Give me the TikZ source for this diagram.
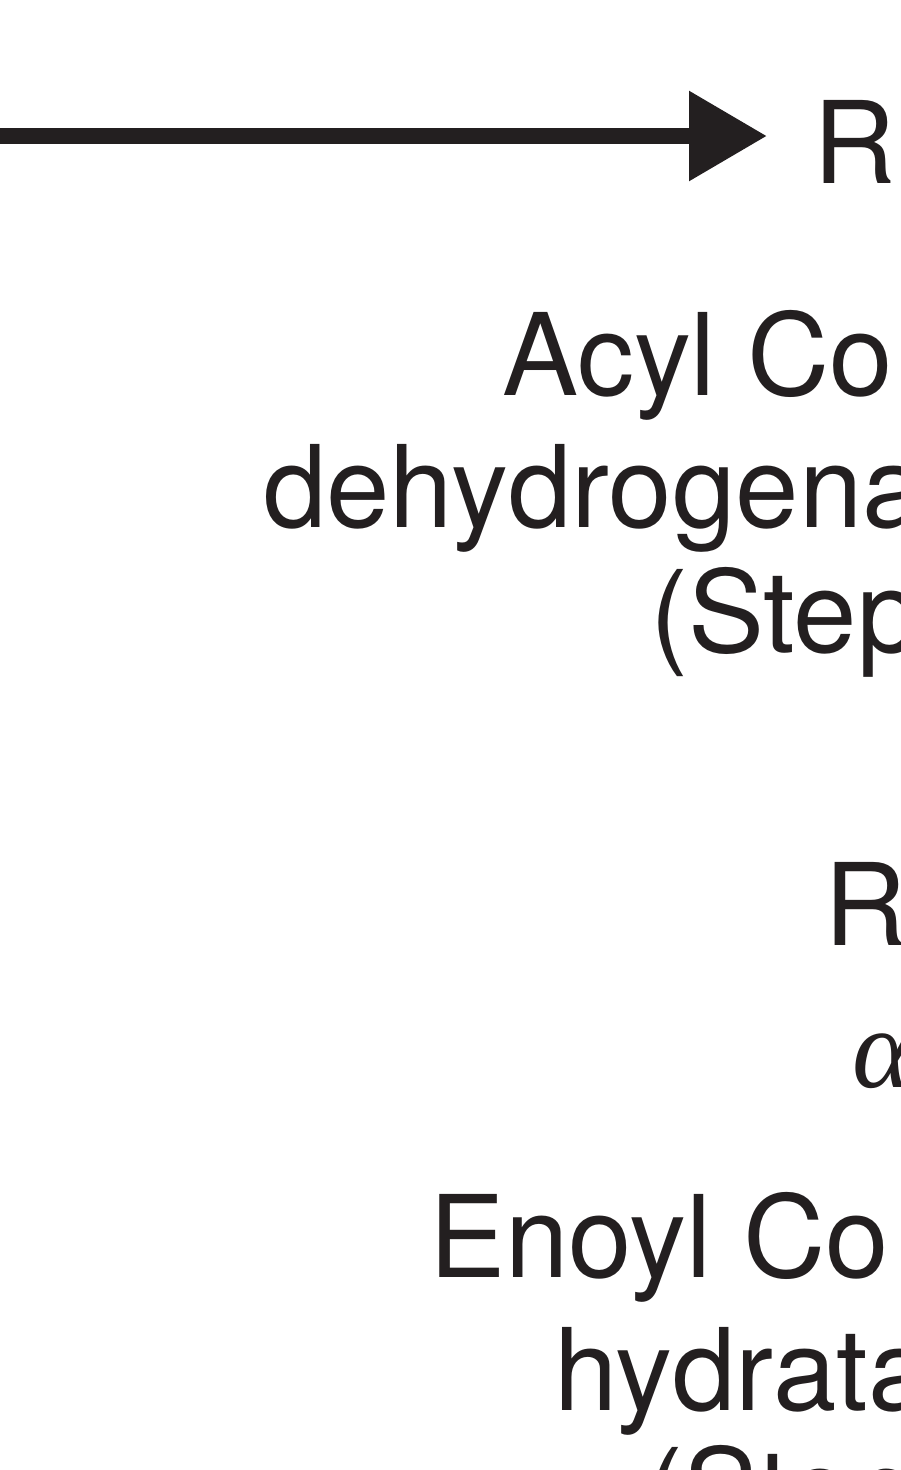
\documentclass[tikz,border=0pt]{standalone}
\usepackage{fontspec}
\setmainfont{TeX Gyre Heros}
\newfontfamily\greekserif{Liberation Serif}
\usetikzlibrary{arrows.meta}
\definecolor{ink}{HTML}{231F20}
\begin{document}
\begin{tikzpicture}[x=1pt,y=-1pt,
  lbl/.style={inner sep=0pt, anchor=base west, text=ink,
    font=\fontsize{114}{130}\selectfont},
  rxn/.style={line width=16pt, draw=ink,
    -{Triangle[length=78pt,width=86pt]}}]
\useasboundingbox (0,0) rectangle (900,1470);
% reaction arrow
\coordinate (start) at (-20,136);
\node[lbl] (R1) at (813,183) {R};
% enzyme label, step 1
\node[lbl] (acyl1) at (502,395) {Acyl Co\kern14pt A};
\node[lbl] (acyl2) at (263,527) {dehydrogenase};
\node[lbl] (acyl3) at (650,652) {(Step 1)};
% second intermediate
\node[lbl] (R2) at (824,945) {R};
\node[lbl, font=\fontsize{114}{130}\selectfont\greekserif\itshape] (alpha) at (852,1087) {α};
% enzyme label, step 2
\node[lbl] (enoyl1) at (429,1277) {Enoyl Co\kern14pt A};
\node[lbl] (enoyl2) at (554,1410) {hydratase};
\node[lbl] (enoyl3) at (645,1530) {(Step 2)};
\draw[rxn] (start) -- (start -| R1.west) [shorten >=46pt];
\end{tikzpicture}
\end{document}
